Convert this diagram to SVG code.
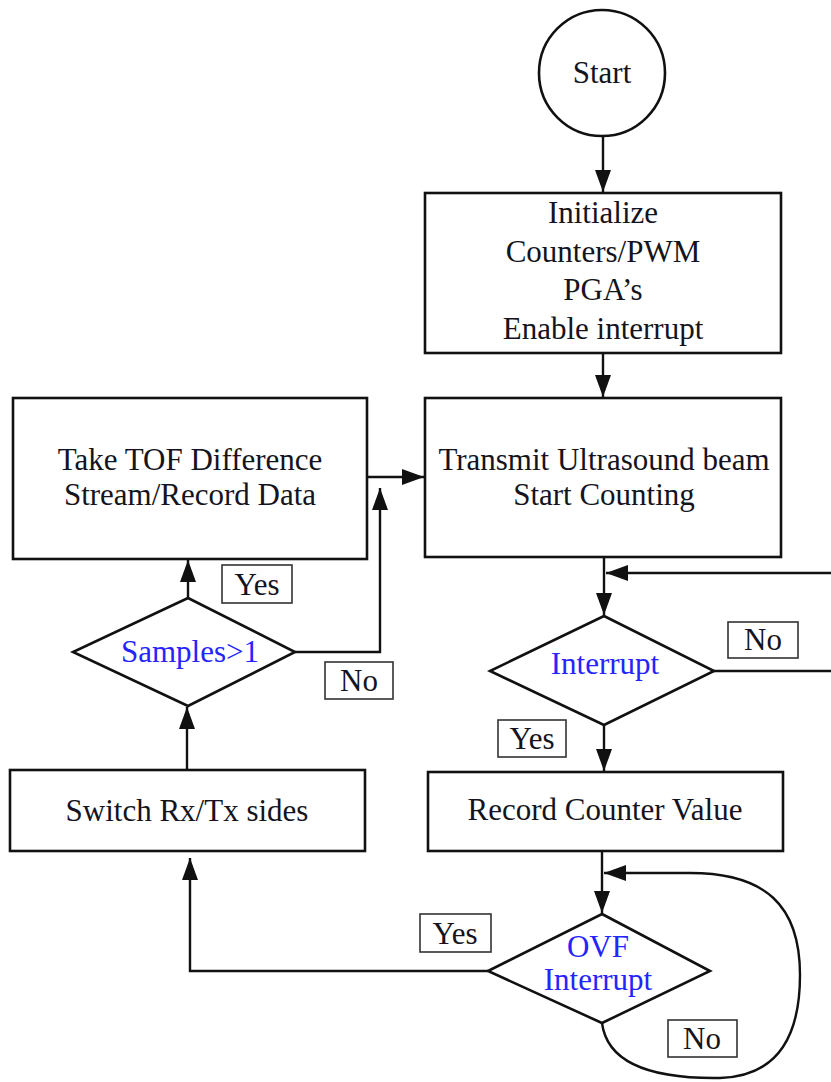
<svg xmlns="http://www.w3.org/2000/svg" width="831" height="1082" viewBox="0 0 831 1082">
  <style>
    .shape { fill: #ffffff; stroke: #111111; stroke-width: 2.6; }
    .tag { fill: #ffffff; stroke: #333333; stroke-width: 1.6; }
    .wire { fill: none; stroke: #111111; stroke-width: 2.4; }
    text { font-size: 31px; fill: #141420; text-anchor: middle; }
    text.cond { fill: #2424ff; }
  </style>
  <defs>
    <marker id="arrow" markerUnits="userSpaceOnUse" markerWidth="24" markerHeight="16" refX="22" refY="8" orient="auto">
      <path d="M0,0 L22,8 L0,16 z" fill="#111111"/>
    </marker>
  </defs>

  <rect width="831" height="1082" fill="#ffffff"/>

  <!-- connectors -->
  <g id="connectors">
    <path class="wire" d="M603,136 V192" marker-end="url(#arrow)"/>
    <path class="wire" d="M603,353 V397" marker-end="url(#arrow)"/>
    <path class="wire" d="M367,477 H424" marker-end="url(#arrow)"/>
    <path class="wire" d="M295,652 H380 V488" marker-end="url(#arrow)"/>
    <path class="wire" d="M188,598 V560" marker-end="url(#arrow)"/>
    <path class="wire" d="M187,770 V707" marker-end="url(#arrow)"/>
    <path class="wire" d="M604,558 V615" marker-end="url(#arrow)"/>
    <path class="wire" d="M713,671 H845 V573 H606" marker-end="url(#arrow)"/>
    <path class="wire" d="M604,725 V771" marker-end="url(#arrow)"/>
    <path class="wire" d="M602,852 V913" marker-end="url(#arrow)"/>
    <path class="wire" d="M488,971 H190 V858" marker-end="url(#arrow)"/>
    <path class="wire" d="M602,1023 C607,1062 650,1079 720,1078 C785,1076 800,1025 800,975 C800,905 765,873 690,873 L604,873" marker-end="url(#arrow)"/>
  </g>

  <g font-family="'Liberation Serif', 'DejaVu Serif', serif">
  <!-- start terminal -->
  <g id="start">
    <circle class="shape" cx="602" cy="73" r="63"/>
    <text x="602" y="83">Start</text>
  </g>

  <!-- initialization block -->
  <g id="init">
    <rect class="shape" x="425" y="193" width="356" height="160"/>
    <text x="603" y="223">Initialize</text>
    <text x="603" y="262">Counters/PWM</text>
    <text x="603" y="300">PGA’s</text>
    <text x="603" y="339">Enable interrupt</text>
  </g>

  <!-- transmit block -->
  <g id="transmit">
    <rect class="shape" x="425" y="398" width="356" height="159"/>
    <text x="604" y="470">Transmit Ultrasound beam</text>
    <text x="604" y="505">Start Counting</text>
  </g>

  <!-- TOF difference block -->
  <g id="tof">
    <rect class="shape" x="13" y="398" width="354" height="161"/>
    <text x="190" y="470">Take TOF Difference</text>
    <text x="190" y="505">Stream/Record Data</text>
  </g>

  <!-- sample count decision -->
  <g id="samples">
    <polygon class="shape" points="188,598 295,652 188,706 73,652"/>
    <text class="cond" x="190" y="662">Samples&gt;1</text>
  </g>

  <!-- switch sides block -->
  <g id="switch">
    <rect class="shape" x="10" y="770" width="355" height="81"/>
    <text x="187" y="821">Switch Rx/Tx sides</text>
  </g>

  <!-- interrupt decision -->
  <g id="interrupt">
    <polygon class="shape" points="604,616 714,671 604,725 490,671"/>
    <text class="cond" x="605" y="674">Interrupt</text>
  </g>

  <!-- record counter block -->
  <g id="record">
    <rect class="shape" x="428" y="772" width="355" height="79"/>
    <text x="605" y="820">Record Counter Value</text>
  </g>

  <!-- overflow decision -->
  <g id="ovf">
    <polygon class="shape" points="602,914 710,971 602,1023 488,971"/>
    <text class="cond" x="598" y="957">OVF</text>
    <text class="cond" x="598" y="990">Interrupt</text>
  </g>

  <!-- branch tags -->
  <g id="tag-samples-yes">
    <rect class="tag" x="222" y="565" width="70" height="38"/>
    <text x="257" y="595">Yes</text>
  </g>
  <g id="tag-samples-no">
    <rect class="tag" x="325" y="662" width="68" height="37"/>
    <text x="359" y="691">No</text>
  </g>
  <g id="tag-interrupt-no">
    <rect class="tag" x="728" y="622" width="70" height="36"/>
    <text x="763" y="650">No</text>
  </g>
  <g id="tag-interrupt-yes">
    <rect class="tag" x="498" y="720" width="68" height="37"/>
    <text x="532" y="749">Yes</text>
  </g>
  <g id="tag-ovf-yes">
    <rect class="tag" x="420" y="914" width="71" height="38"/>
    <text x="455" y="944">Yes</text>
  </g>
  <g id="tag-ovf-no">
    <rect class="tag" x="668" y="1020" width="69" height="37"/>
    <text x="702" y="1049">No</text>
  </g>
  </g>
</svg>
